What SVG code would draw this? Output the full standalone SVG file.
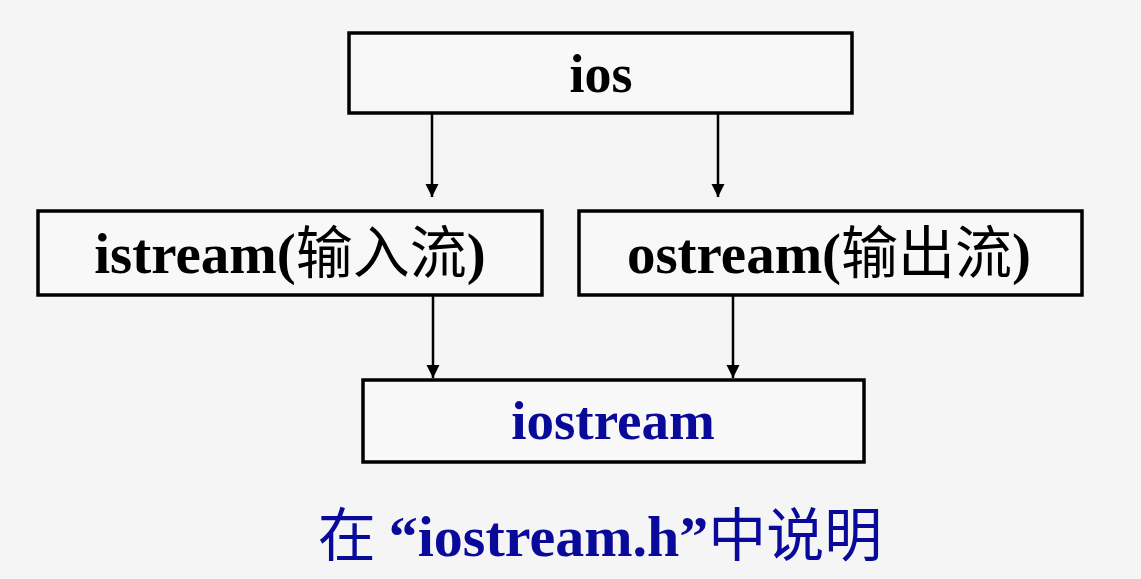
<svg xmlns="http://www.w3.org/2000/svg" width="1141" height="579" viewBox="0 0 1141 579">
  <defs>
    <style>
      .box { fill: #f8f8f8; stroke: #000; stroke-width: 3.5; }
      .lbl { font-family: "Liberation Serif", "Noto Sans CJK SC", serif; font-size: 55px; font-weight: bold; fill: #000; text-anchor: middle; }
      .cjk { font-family: "Noto Sans CJK SC", sans-serif; font-weight: normal; }
      .blue { fill: #0a0a9a; }
      .conn { stroke: #000; stroke-width: 2.5; fill: none; marker-end: url(#arr); }
    </style>
    <marker id="arr" markerWidth="13" markerHeight="14" refX="10" refY="5" orient="auto" markerUnits="userSpaceOnUse" viewBox="0 0 10 10">
      <path d="M0,0 L10,5 L0,10 z" fill="#000"/>
    </marker>
  </defs>
  <rect width="1141" height="579" fill="#f5f5f5"/>
  <g id="connectors">
    <line class="conn" x1="432" y1="113" x2="432" y2="197"/>
    <line class="conn" x1="718" y1="113" x2="718" y2="197"/>
    <line class="conn" x1="433" y1="296" x2="433" y2="378"/>
    <line class="conn" x1="733" y1="296" x2="733" y2="378"/>
  </g>
  <g id="ios">
    <rect class="box" x="349" y="33" width="503" height="80"/>
    <text class="lbl" x="601" y="92" style="font-size:54px">ios</text>
  </g>
  <g id="istream">
    <rect class="box" x="38" y="211" width="504" height="84"/>
    <text class="lbl" x="290" y="273" style="font-size:57px">istream(<tspan class="cjk">输入流</tspan>)</text>
  </g>
  <g id="ostream">
    <rect class="box" x="579" y="211" width="503" height="84"/>
    <text class="lbl" x="829" y="273" style="font-size:57px">ostream(<tspan class="cjk">输出流</tspan>)</text>
  </g>
  <g id="iostream">
    <rect class="box" x="363" y="380" width="501" height="82"/>
    <text class="lbl blue" x="613" y="439">iostream</text>
  </g>
  <text class="lbl blue" x="600" y="556" style="font-size:58px"><tspan class="cjk">在 </tspan>“iostream.h”<tspan class="cjk">中说明</tspan></text>
</svg>
